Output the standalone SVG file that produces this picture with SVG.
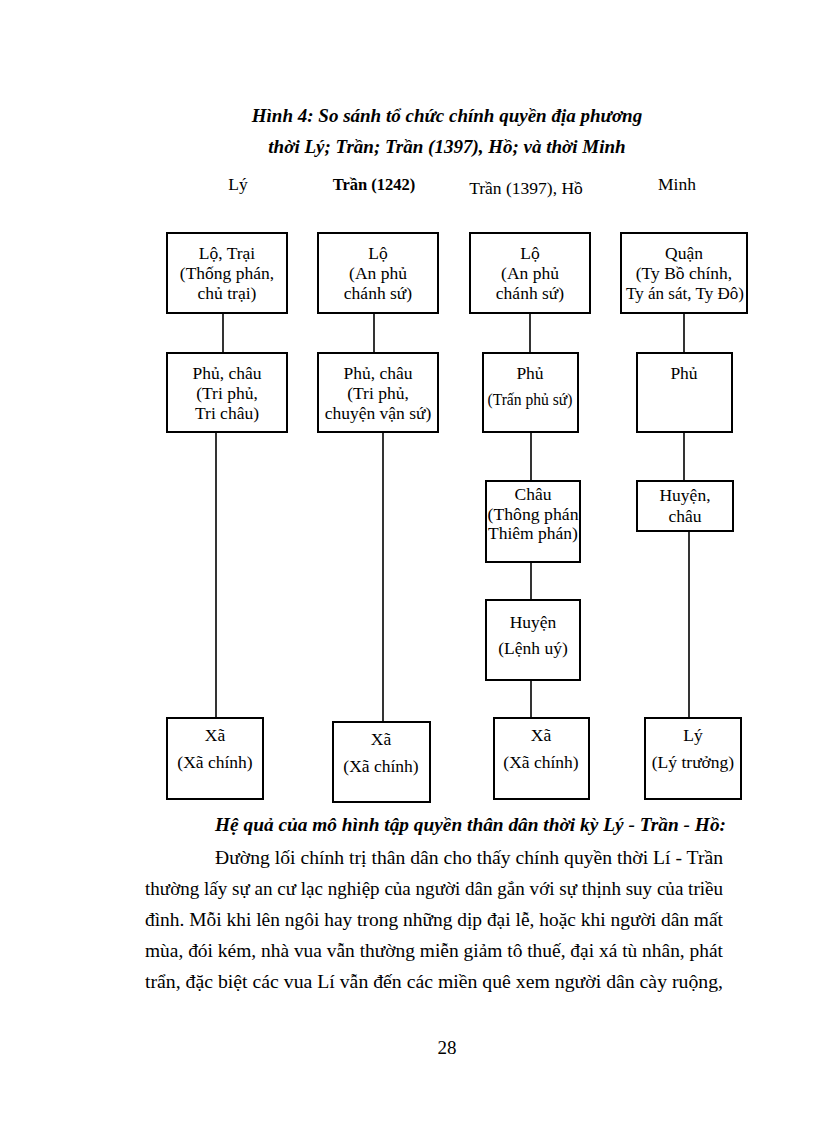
<svg xmlns="http://www.w3.org/2000/svg" width="816" height="1123" viewBox="0 0 816 1123">
<style>
.bx{fill:#fff;stroke:#000;stroke-width:2}
.ln{stroke:#000;stroke-width:1.6;fill:none}
.t{font-family:"Liberation Serif","Times New Roman",serif;font-size:17.5px;fill:#000;text-anchor:middle}
.h{font-family:"Liberation Serif","Times New Roman",serif;font-size:17.5px;fill:#000;text-anchor:middle}
.ti{font-family:"Liberation Serif","Times New Roman",serif;font-size:19px;font-weight:bold;font-style:italic;fill:#000;text-anchor:middle}
.p{font-family:"Liberation Serif","Times New Roman",serif;font-size:19px;fill:#000}
</style>
<rect width="816" height="1123" fill="#fff"/>
<g id="title">
<text class="ti" x="447" y="122">Hình 4: So sánh tổ chức chính quyền địa phương</text>
<text class="ti" x="447" y="153">thời Lý; Trần; Trần (1397), Hồ; và thời Minh</text>
</g>
<g id="headers">
<text class="h" x="238" y="190">Lý</text>
<text class="h" x="374" y="190" style="font-weight:bold;font-size:16.5px">Trần (1242)</text>
<text class="h" x="526" y="194">Trần (1397), Hồ</text>
<text class="h" x="677" y="190">Minh</text>
</g>
<g id="connectors">
<line class="ln" x1="223" y1="313" x2="223" y2="353"/>
<line class="ln" x1="216" y1="432" x2="216" y2="718"/>
<line class="ln" x1="374" y1="313" x2="374" y2="353"/>
<line class="ln" x1="383" y1="432" x2="383" y2="722"/>
<line class="ln" x1="530" y1="313" x2="530" y2="353"/>
<line class="ln" x1="531" y1="432" x2="531" y2="481"/>
<line class="ln" x1="531" y1="562" x2="531" y2="600"/>
<line class="ln" x1="531" y1="680" x2="531" y2="718"/>
<line class="ln" x1="684" y1="313" x2="684" y2="353"/>
<line class="ln" x1="684" y1="432" x2="684" y2="481"/>
<line class="ln" x1="689" y1="531" x2="689" y2="718"/>
</g>
<g id="ly-lo">
<rect class="bx" x="167" y="233" width="120" height="80"/>
<text class="t" x="227" y="259">Lộ, Trại</text>
<text class="t" x="227" y="279">(Thống phán,</text>
<text class="t" x="227" y="299">chủ trại)</text>
</g>
<g id="ly-phu">
<rect class="bx" x="167" y="353" width="120" height="79"/>
<text class="t" x="227" y="379">Phủ, châu</text>
<text class="t" x="227" y="399">(Tri phủ,</text>
<text class="t" x="227" y="419">Tri châu)</text>
</g>
<g id="ly-xa">
<rect class="bx" x="167" y="718" width="96" height="81"/>
<text class="t" x="215" y="741">Xã</text>
<text class="t" x="215" y="768">(Xã chính)</text>
</g>
<g id="tran-lo">
<rect class="bx" x="318" y="233" width="120" height="80"/>
<text class="t" x="378" y="259">Lộ</text>
<text class="t" x="378" y="279">(An phủ</text>
<text class="t" x="378" y="299">chánh sứ)</text>
</g>
<g id="tran-phu">
<rect class="bx" x="318" y="353" width="120" height="79"/>
<text class="t" x="378" y="379">Phủ, châu</text>
<text class="t" x="378" y="399">(Tri phủ,</text>
<text class="t" x="378" y="419">chuyện vận sứ)</text>
</g>
<g id="tran-xa">
<rect class="bx" x="333" y="722" width="97" height="80"/>
<text class="t" x="381" y="745">Xã</text>
<text class="t" x="381" y="772">(Xã chính)</text>
</g>
<g id="ho-lo">
<rect class="bx" x="470" y="233" width="120" height="80"/>
<text class="t" x="530" y="259">Lộ</text>
<text class="t" x="530" y="279">(An phủ</text>
<text class="t" x="530" y="299">chánh sứ)</text>
</g>
<g id="ho-phu">
<rect class="bx" x="483" y="353" width="95" height="79"/>
<text class="t" x="530" y="379">Phủ</text>
<text class="t" x="530" y="405" textLength="85" lengthAdjust="spacingAndGlyphs">(Trấn phủ sứ)</text>
</g>
<g id="ho-chau">
<rect class="bx" x="486" y="481" width="94" height="81"/>
<text class="t" x="533" y="500">Châu</text>
<text class="t" x="533" y="520" textLength="91" lengthAdjust="spacingAndGlyphs">(Thông phán</text>
<text class="t" x="533" y="539">Thiêm phán)</text>
</g>
<g id="ho-huyen">
<rect class="bx" x="486" y="600" width="94" height="80"/>
<text class="t" x="533" y="628">Huyện</text>
<text class="t" x="533" y="654">(Lệnh uý)</text>
</g>
<g id="ho-xa">
<rect class="bx" x="494" y="718" width="95" height="81"/>
<text class="t" x="541" y="741">Xã</text>
<text class="t" x="541" y="768">(Xã chính)</text>
</g>
<g id="minh-quan">
<rect class="bx" x="621" y="233" width="126" height="80"/>
<text class="t" x="684" y="259">Quận</text>
<text class="t" x="684" y="279">(Ty Bồ chính,</text>
<text class="t" x="685" y="299" textLength="118" lengthAdjust="spacingAndGlyphs">Ty án sát, Ty Đô)</text>
</g>
<g id="minh-phu">
<rect class="bx" x="637" y="353" width="95" height="79"/>
<text class="t" x="684" y="379">Phủ</text>
</g>
<g id="minh-huyen">
<rect class="bx" x="637" y="481" width="96" height="50"/>
<text class="t" x="685" y="501">Huyện,</text>
<text class="t" x="685" y="522">châu</text>
</g>
<g id="minh-ly">
<rect class="bx" x="645" y="718" width="96" height="81"/>
<text class="t" x="693" y="741">Lý</text>
<text class="t" x="693" y="768">(Lý trưởng)</text>
</g>
<g id="body">
<text class="p" x="215" y="831" style="font-weight:bold;font-style:italic" textLength="511" lengthAdjust="spacingAndGlyphs">Hệ quả của mô hình tập quyền thân dân thời kỳ Lý - Trần - Hồ:</text>
<text class="p" x="215" y="864" textLength="508" lengthAdjust="spacingAndGlyphs">Đường lối chính trị thân dân cho thấy chính quyền thời Lí - Trần</text>
<text class="p" x="145" y="895" textLength="578" lengthAdjust="spacingAndGlyphs">thường lấy sự an cư lạc nghiệp của người dân gắn với sự thịnh suy của triều</text>
<text class="p" x="145" y="926" textLength="578" lengthAdjust="spacingAndGlyphs">đình. Mỗi khi lên ngôi hay trong những dịp đại lễ, hoặc khi người dân mất</text>
<text class="p" x="145" y="957" textLength="578" lengthAdjust="spacingAndGlyphs">mùa, đói kém, nhà vua vẫn thường miễn giảm tô thuế, đại xá tù nhân, phát</text>
<text class="p" x="145" y="988" textLength="578" lengthAdjust="spacingAndGlyphs">trẩn, đặc biệt các vua Lí vẫn đến các miền quê xem người dân cày ruộng,</text>
<text class="p" x="447" y="1054" text-anchor="middle">28</text>
</g>
</svg>
